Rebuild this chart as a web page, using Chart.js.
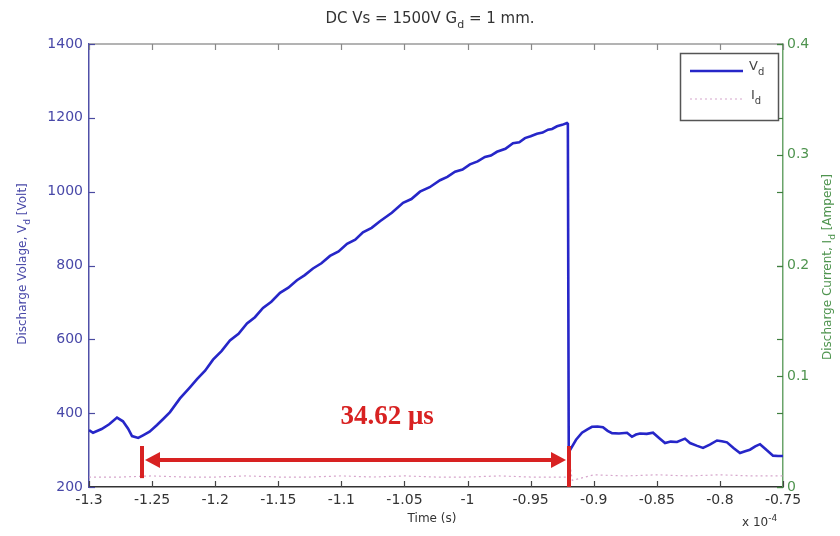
<!DOCTYPE html>
<html><head><meta charset="utf-8">
<script src="https://cdn.jsdelivr.net/npm/chart.js@4"></script>
<style>html,body{margin:0;padding:0;background:#fff;}</style>
</head><body>
<canvas id="c" width="840" height="536"></canvas>
<script>
// Time in units of 1e-4 s
const timeV = [-1.3000,-1.2968,-1.2900,-1.2840,-1.2778,-1.2731,-1.2690,-1.2659,-1.2610,-1.2572,-1.2520,-1.2461,-1.2410,-1.2358,-1.2279,-1.2200,-1.2144,-1.2080,-1.2017,-1.1950,-1.1883,-1.1815,-1.1748,-1.1685,-1.1621,-1.1555,-1.1486,-1.1420,-1.1352,-1.1290,-1.1225,-1.1158,-1.1090,-1.1022,-1.0955,-1.0890,-1.0829,-1.0760,-1.0694,-1.0600,-1.0511,-1.0445,-1.0377,-1.0300,-1.0218,-1.0160,-1.0099,-1.0040,-0.9981,-0.9920,-0.9862,-0.9815,-0.9767,-0.9700,-0.9640,-0.9590,-0.9545,-0.9500,-0.9450,-0.9405,-0.9362,-0.9330,-0.9291,-0.9250,-0.9212,-0.9205,-0.9198,-0.9188,-0.9140,-0.9093,-0.9050,-0.9014,-0.8970,-0.8927,-0.8890,-0.8855,-0.8800,-0.8736,-0.8697,-0.8665,-0.8633,-0.8580,-0.8530,-0.8480,-0.8435,-0.8390,-0.8340,-0.8277,-0.8237,-0.8185,-0.8134,-0.8080,-0.8023,-0.7985,-0.7944,-0.7890,-0.7841,-0.7800,-0.7762,-0.7720,-0.7682,-0.7630,-0.7579,-0.7540,-0.7500];
const voltage = [354,347,357,370,388,378,358,338,333,340,350,368,385,403,440,470,492,515,545,568,597,615,643,660,685,702,726,740,760,774,792,806,826,838,859,870,890,902,920,943,970,980,1000,1012,1031,1040,1054,1060,1074,1082,1094,1098,1108,1116,1131,1134,1145,1150,1157,1160,1168,1170,1177,1181,1186,1184,305,300,328,347,356,363,364,362,352,346,345,347,336,342,345,344,347,332,319,323,322,331,319,312,306,315,326,324,321,305,292,297,301,310,316,300,285,284,284];
const timeI = [-1.3,-1.275,-1.25,-1.225,-1.2,-1.175,-1.15,-1.125,-1.1,-1.075,-1.05,-1.025,-1.0,-0.975,-0.95,-0.925,-0.921,-0.919,-0.917,-0.9,-0.875,-0.85,-0.825,-0.8,-0.775,-0.75];
const current = [0.009,0.009,0.010,0.009,0.009,0.010,0.009,0.009,0.010,0.009,0.010,0.009,0.009,0.010,0.009,0.009,0.009,0.022,0.006,0.011,0.010,0.011,0.010,0.011,0.010,0.010];
const xTicks = [-1.3,-1.25,-1.2,-1.15,-1.1,-1.05,-1,-0.95,-0.9,-0.85,-0.8,-0.75];
const leftTicks = [200,400,600,800,1000,1200,1400];
const rightTicks = [0,0.1,0.2,0.3,0.4];
// annotation (data coordinates)
const arrowFrom = -1.258, arrowTo = -0.9196, arrowLevel = 273, barTop = 311, barBottom = 224;
const arrowLabel = '34.62 μs', labelAt = [-1.0638, 390];

const FONT = '"DejaVu Sans", sans-serif';

function drawParts(ctx, parts, x, y, size, align) {
  // parts: [text, kind] kind: 0 normal, 1 subscript, 2 superscript
  let total = 0;
  const w = parts.map(p => { ctx.font = (p[1] ? Math.round(size*0.75) : size) + 'px ' + FONT; const m = ctx.measureText(p[0]).width; total += m; return m; });
  let cx = align === 'center' ? x - total/2 : x;
  ctx.textAlign = 'left'; ctx.textBaseline = 'middle';
  parts.forEach((p, i) => {
    ctx.font = (p[1] ? Math.round(size*0.75) : size) + 'px ' + FONT;
    const dy = p[1] === 1 ? size*0.4 : (p[1] === 2 ? -size*0.4 : 0);
    ctx.fillText(p[0], cx, y + dy);
    cx += w[i];
  });
}

const decor = {
  id: 'decor',
  afterDraw(chart) {
    const ctx = chart.ctx, a = chart.chartArea;
    const xs = chart.scales.x, ys = chart.scales.y, y1 = chart.scales.y1;
    ctx.save();
    // top axis line
    ctx.strokeStyle = '#9a9a9a'; ctx.lineWidth = 1.5;
    ctx.beginPath(); ctx.moveTo(a.left, a.top); ctx.lineTo(a.right, a.top); ctx.stroke();
    // inward ticks
    ctx.lineWidth = 1.2;
    xTicks.forEach(v => {
      const px = Math.round(xs.getPixelForValue(v)) + 0.5;
      ctx.strokeStyle = '#444';
      ctx.beginPath(); ctx.moveTo(px, a.bottom); ctx.lineTo(px, a.bottom - 6); ctx.stroke();
      ctx.strokeStyle = '#888';
      ctx.beginPath(); ctx.moveTo(px, a.top); ctx.lineTo(px, a.top + 6); ctx.stroke();
    });
    leftTicks.forEach(v => {
      const py = Math.round(ys.getPixelForValue(v)) + 0.5;
      ctx.strokeStyle = '#4a4aa0';
      ctx.beginPath(); ctx.moveTo(a.left, py); ctx.lineTo(a.left + 6, py); ctx.stroke();
      ctx.strokeStyle = '#3f7f3f';
      ctx.beginPath(); ctx.moveTo(a.right - 6, py); ctx.lineTo(a.right, py); ctx.stroke();
    });
    rightTicks.forEach(v => {
      const py = Math.round(y1.getPixelForValue(v)) + 0.5;
      ctx.strokeStyle = '#3f7f3f';
      ctx.beginPath(); ctx.moveTo(a.right - 6, py); ctx.lineTo(a.right, py); ctx.stroke();
    });
    // title
    ctx.fillStyle = '#333';
    drawParts(ctx, [['DC Vs = 1500V G',0],['d',1],[' = 1 mm.',0]], 430, 19, 15, 'center');
    // x title
    drawParts(ctx, [['Time (s)',0]], 432, 519, 12, 'center');
    // exponent
    drawParts(ctx, [['x 10',0],['-4',2]], 742, 523, 12, 'left');
    // left y title
    ctx.save(); ctx.translate(23, 264); ctx.rotate(-Math.PI/2);
    ctx.fillStyle = '#4848a8';
    drawParts(ctx, [['Discharge Volage, V',0],['d',1],[' [Volt]',0]], 0, 0, 12, 'center');
    ctx.restore();
    // right y title
    ctx.save(); ctx.translate(828, 267); ctx.rotate(-Math.PI/2);
    ctx.fillStyle = '#4f944f';
    drawParts(ctx, [['Discharge Current, I',0],['d',1],[' [Ampere]',0]], 0, 0, 12, 'center');
    ctx.restore();
    // legend
    ctx.fillStyle = '#fff'; ctx.strokeStyle = '#555'; ctx.lineWidth = 1.5;
    ctx.fillRect(680, 53, 98, 67); ctx.strokeRect(680.5, 53.5, 98, 67);
    ctx.strokeStyle = '#2626c8'; ctx.lineWidth = 2.5;
    ctx.beginPath(); ctx.moveTo(690, 71); ctx.lineTo(743, 71); ctx.stroke();
    ctx.strokeStyle = '#d6a6cc'; ctx.lineWidth = 1.2; ctx.setLineDash([2,3]);
    ctx.beginPath(); ctx.moveTo(690, 99); ctx.lineTo(743, 99); ctx.stroke();
    ctx.setLineDash([]);
    ctx.fillStyle = '#444';
    drawParts(ctx, [['V',0],['d',1]], 749, 67, 13, 'left');
    drawParts(ctx, [['I',0],['d',1]], 751, 96, 13, 'left');
    // red arrow annotation
    const red = '#d82222';
    const xa = xs.getPixelForValue(arrowFrom), xb = xs.getPixelForValue(arrowTo);
    const ya = ys.getPixelForValue(arrowLevel);
    const yt = ys.getPixelForValue(barTop), yb = ys.getPixelForValue(barBottom);
    ctx.strokeStyle = red; ctx.fillStyle = red; ctx.lineWidth = 4;
    ctx.beginPath(); ctx.moveTo(xa, yt); ctx.lineTo(xa, yb); ctx.stroke();
    ctx.beginPath(); ctx.moveTo(xb, yt); ctx.lineTo(xb, a.bottom); ctx.stroke();
    ctx.beginPath(); ctx.moveTo(xa + 14, ya); ctx.lineTo(xb - 14, ya); ctx.stroke();
    ctx.beginPath(); ctx.moveTo(xa + 3, ya); ctx.lineTo(xa + 18, ya - 8); ctx.lineTo(xa + 18, ya + 8); ctx.closePath(); ctx.fill();
    ctx.beginPath(); ctx.moveTo(xb - 3, ya); ctx.lineTo(xb - 18, ya - 8); ctx.lineTo(xb - 18, ya + 8); ctx.closePath(); ctx.fill();
    ctx.font = 'bold 27px "Liberation Serif", serif';
    ctx.textAlign = 'center'; ctx.textBaseline = 'middle';
    ctx.fillText(arrowLabel, xs.getPixelForValue(labelAt[0]), ys.getPixelForValue(labelAt[1]));
    ctx.restore();
  }
};

new Chart(document.getElementById('c'), {
  type: 'line',
  data: {
    datasets: [
      { label: 'V_d', data: timeV.map((t, i) => ({x: t, y: voltage[i]})), borderColor: '#2626c8', borderWidth: 2.6, pointRadius: 0, yAxisID: 'y', tension: 0 },
      { label: 'I_d', data: timeI.map((t, i) => ({x: t, y: current[i]})), borderColor: '#d6a6cc', borderWidth: 1.2, borderDash: [2,3], pointRadius: 0, yAxisID: 'y1', tension: 0 }
    ]
  },
  options: {
    responsive: false, animation: false, devicePixelRatio: 1,
    layout: { padding: { top: 44, left: 0, right: 0, bottom: 0 } },
    plugins: { legend: { display: false }, title: { display: false }, tooltip: { enabled: false } },
    scales: {
      x: {
        type: 'linear', min: -1.3, max: -0.75,
        afterBuildTicks: s => { s.ticks = xTicks.map(v => ({ value: v })); },
        afterFit: s => { s.height = 49; },
        grid: { display: false, drawTicks: false },
        border: { display: true, color: '#333', width: 1.5 },
        ticks: { autoSkip: false, maxRotation: 0, padding: 5, color: '#333', font: { family: 'DejaVu Sans', size: 14 },
          callback: v => String(Number(v.toFixed(2))) }
      },
      y: {
        position: 'left', min: 200, max: 1400,
        afterBuildTicks: s => { s.ticks = leftTicks.map(v => ({ value: v })); },
        afterFit: s => { s.width = 89; },
        grid: { display: false, drawTicks: false },
        border: { display: true, color: '#5050a8', width: 1.5 },
        ticks: { padding: 6, color: '#4848a8', font: { family: 'DejaVu Sans', size: 14 },
          callback: v => String(v) }
      },
      y1: {
        position: 'right', min: 0, max: 0.4,
        afterBuildTicks: s => { s.ticks = rightTicks.map(v => ({ value: v })); },
        afterFit: s => { s.width = 57; },
        grid: { display: false, drawTicks: false },
        border: { display: true, color: '#6aa46a', width: 1.5 },
        ticks: { padding: 4, color: '#4f944f', font: { family: 'DejaVu Sans', size: 14 },
          callback: v => String(Number(v.toFixed(1))) }
      }
    }
  },
  plugins: [decor]
});
</script>
</body></html>
